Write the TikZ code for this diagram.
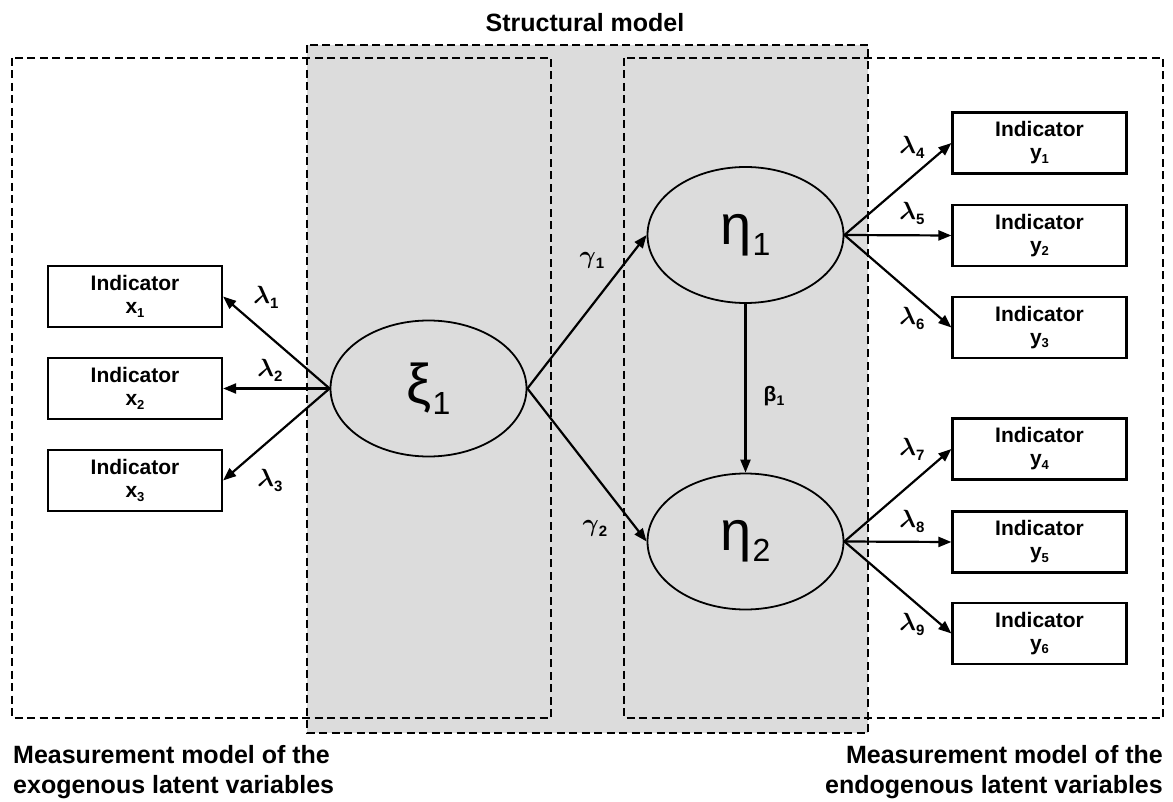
\documentclass[tikz,border=0pt]{standalone}
\usepackage{fontspec}
\setmainfont{Liberation Sans}
\usetikzlibrary{arrows.meta,shapes.geometric}

\definecolor{structgray}{RGB}{220,220,220}

% subscripted labels
\newcommand{\indlabel}[2]{Indicator\\#1\raisebox{-3.5pt}{\fontsize{13}{13}\selectfont #2}}
\newcommand{\latentlabel}[2]{{\fontsize{56}{56}\selectfont #1}\kern1pt{\fontsize{32}{32}\selectfont\raisebox{-11pt}{#2}}}
\newcommand{\coeflabel}[2]{{\fontsize{27}{27}\selectfont\boldmath$#1$}\raisebox{-5pt}{\fontsize{15}{15}\selectfont\bfseries #2}}

\begin{document}
\begin{tikzpicture}[x=1pt,y=-1pt,
  regionbox/.style={draw=black, line width=2.4pt, dash pattern=on 8pt off 4.5pt},
  indicator/.style={draw=black, line width=2.2pt, fill=white, rectangle,
    minimum width=174pt, minimum height=61pt, inner sep=0pt, align=center,
    font=\fontsize{21}{23}\selectfont\bfseries},
  latent/.style={draw=black, line width=1.8pt, ellipse, minimum width=196pt,
    minimum height=136pt, inner sep=0pt},
  path/.style={line width=2.2pt, -{Triangle[length=13pt,width=10pt]}},
  coef/.style={inner sep=0pt},
  caption/.style={font=\fontsize{25}{30}\selectfont\bfseries, inner sep=0pt}
]
\useasboundingbox (0,0) rectangle (1173,802);

% structural model region (shaded)
\fill[structgray] (307,45) rectangle (868,733);
\draw[regionbox] (307,45) rectangle (868,733);
% measurement model regions
\draw[regionbox] (12,58) rectangle (551,718);
\draw[regionbox] (624,58) rectangle (1163,718);

\node[caption, anchor=base] (ttl) at (585,32) {Structural model};

% latent variables
\node[latent] (xi) at (428.5,388.5) {\latentlabel{ξ}{1}};
\node[latent] (eta1) at (745.5,235) {\latentlabel{η}{1}};
\node[latent] (eta2) at (745.5,541.5) {\latentlabel{η}{2}};

% exogenous indicators
\node[indicator] (x1) at (135,296.5) {\indlabel{x}{1}};
\node[indicator] (x2) at (135,388.5) {\indlabel{x}{2}};
\node[indicator] (x3) at (135,480.5) {\indlabel{x}{3}};

% endogenous indicators
\node[indicator] (y1) at (1039.5,143) {\indlabel{y}{1}};
\node[indicator] (y2) at (1039.5,235.5) {\indlabel{y}{2}};
\node[indicator] (y3) at (1039.5,327.5) {\indlabel{y}{3}};
\node[indicator] (y4) at (1039.5,449) {\indlabel{y}{4}};
\node[indicator] (y5) at (1039.5,542) {\indlabel{y}{5}};
\node[indicator] (y6) at (1039.5,633.5) {\indlabel{y}{6}};

% loadings and paths
\draw[path] (xi.west) -- (x1.east);
\draw[path] (xi.west) -- (x2.east);
\draw[path] (xi.west) -- (x3.east);
\draw[path] (xi.east) -- (eta1.west);
\draw[path] (xi.east) -- (eta2.west);
\draw[path] (eta1.south) -- (eta2.north);
\draw[path] (eta1.east) -- (y1.west);
\draw[path] (eta1.east) -- (y2.west);
\draw[path] (eta1.east) -- (y3.west);
\draw[path] (eta2.east) -- (y4.west);
\draw[path] (eta2.east) -- (y5.west);
\draw[path] (eta2.east) -- (y6.west);

% coefficients
\node[coef] (l1) at (266,297) {\coeflabel{\lambda}{1}};
\node[coef] (l2) at (270,370) {\coeflabel{\lambda}{2}};
\node[coef] (l3) at (270,480) {\coeflabel{\lambda}{3}};
\node[coef] (l4) at (912,147) {\coeflabel{\lambda}{4}};
\node[coef] (l5) at (912,213) {\coeflabel{\lambda}{5}};
\node[coef] (l6) at (912,318) {\coeflabel{\lambda}{6}};
\node[coef] (l7) at (912,449) {\coeflabel{\lambda}{7}};
\node[coef] (l8) at (912,521) {\coeflabel{\lambda}{8}};
\node[coef] (l9) at (912,624) {\coeflabel{\lambda}{9}};
\node[coef] (g1) at (592,260) {\coeflabel{\gamma}{1}};
\node[coef] (g2) at (595,528) {\coeflabel{\gamma}{2}};
\node[coef] (b1) at (774,396) {{\fontsize{21}{21}\selectfont\bfseries β}\raisebox{-4pt}{\fontsize{14}{14}\selectfont\bfseries 1}};

% region captions
\node[caption, anchor=north west, align=left] (exo) at (13,745)
  {Measurement model of the\\exogenous latent variables};
\node[caption, anchor=north east, align=right] (endo) at (1163,745)
  {Measurement model of the\\endogenous latent variables};
\end{tikzpicture}
\end{document}
